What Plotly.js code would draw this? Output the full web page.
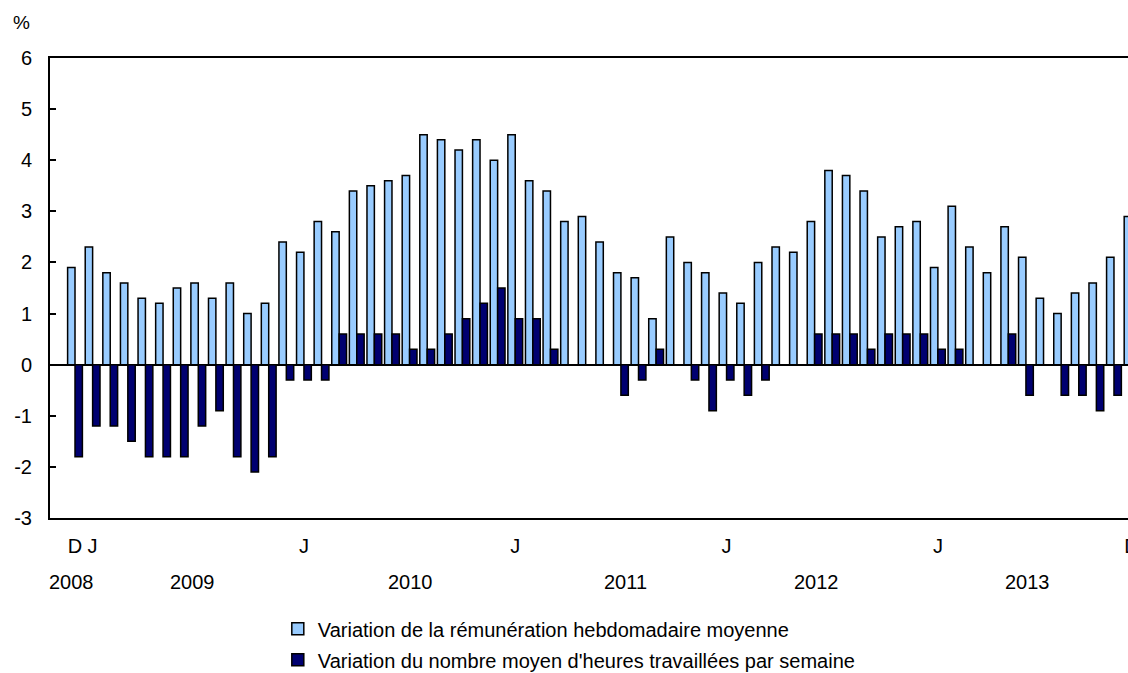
<!DOCTYPE html>
<html><head><meta charset="utf-8">
<script src="https://cdn.plot.ly/plotly-3.0.1.min.js"></script>
<style>html,body{margin:0;padding:0;overflow:hidden;background:#fff}#chart{width:1178px;height:673px}</style>
</head><body><div id="chart"></div>
<script>
const months = ["2008-12",
 "2009-01","2009-02","2009-03","2009-04","2009-05","2009-06","2009-07","2009-08","2009-09","2009-10","2009-11","2009-12",
 "2010-01","2010-02","2010-03","2010-04","2010-05","2010-06","2010-07","2010-08","2010-09","2010-10","2010-11","2010-12",
 "2011-01","2011-02","2011-03","2011-04","2011-05","2011-06","2011-07","2011-08","2011-09","2011-10","2011-11","2011-12",
 "2012-01","2012-02","2012-03","2012-04","2012-05","2012-06","2012-07","2012-08","2012-09","2012-10","2012-11","2012-12",
 "2013-01","2013-02","2013-03","2013-04","2013-05","2013-06","2013-07","2013-08","2013-09","2013-10","2013-11","2013-12"];
const wages = [1.9,
 2.3,1.8,1.6,1.3,1.2,1.5,1.6,1.3,1.6,1.0,1.2,2.4,
 2.2,2.8,2.6,3.4,3.5,3.6,3.7,4.5,4.4,4.2,4.4,4.0,
 4.5,3.6,3.4,2.8,2.9,2.4,1.8,1.7,0.9,2.5,2.0,1.8,
 1.4,1.2,2.0,2.3,2.2,2.8,3.8,3.7,3.4,2.5,2.7,2.8,
 1.9,3.1,2.3,1.8,2.7,2.1,1.3,1.0,1.4,1.6,2.1,2.9];
const hours = [-1.8,
 -1.2,-1.2,-1.5,-1.8,-1.8,-1.8,-1.2,-0.9,-1.8,-2.1,-1.8,-0.3,
 -0.3,-0.3,0.6,0.6,0.6,0.6,0.3,0.3,0.6,0.9,1.2,1.5,
 0.9,0.9,0.3,0,0,0,-0.6,-0.3,0.3,0,-0.3,-0.9,
 -0.3,-0.6,-0.3,0,0,0.6,0.6,0.6,0.3,0.6,0.6,0.6,
 0.3,0.3,0,0,0.6,-0.6,0,-0.6,-0.6,-0.9,-0.6,-0.3];
const seriesNames = ["Variation de la rémunération hebdomadaire moyenne",
                     "Variation du nombre moyen d'heures travaillées par semaine"];
const tickMonths = ["2008-12","2009-01","2010-01","2011-01","2012-01","2013-01","2013-12"];
const tickLabels = ["D","J","J","J","J","J","D"];
const yearLabels = ["2008","2009","2010","2011","2012","2013"];
const yTicks = [-3,-2,-1,0,1,2,3,4,5,6];
const yTickText = ["-3","-2","-1","0","1","2","3","4","5","6"];

const yearPos = [-0.2, 6.7, 19.05, 31.25, 42.1, 54.1];
const FONT = "Liberation Sans, Arial, sans-serif";

const traces = [
  {type:"bar", x:months, y:wages, name:seriesNames[0], legendgroup:"a",
   marker:{color:"#99ccff", line:{color:"#000", width:1.5}}},
  {type:"bar", x:months, y:hours, name:seriesNames[1], legendgroup:"b",
   marker:{color:"#000070", line:{color:"#000", width:1.5}}}
];

const annotations = yearLabels.map((t,i)=>({
  text:t, x:yearPos[i], xref:"x", y:-0.139, yref:"paper",
  showarrow:false, xanchor:"center", yanchor:"middle",
  font:{family:FONT, size:20, color:"#000"}
}));
annotations.push({
  text:"%", xref:"paper", yref:"paper", x:-0.026, y:1.078,
  xanchor:"center", yanchor:"middle", showarrow:false,
  font:{family:FONT, size:19, color:"#000"}
});

const layout = {
  width:1178, height:673,
  margin:{l:50, r:20, t:58, b:155, autoexpand:false},
  paper_bgcolor:"#fff", plot_bgcolor:"#fff",
  font:{family:FONT, size:20, color:"#000"},
  barmode:"group", bargap:0.16, bargroupgap:0,
  showlegend:true,
  legend:{x:0.2056, y:0.0946, xref:"paper", yref:"container", xanchor:"left", yanchor:"top",
          orientation:"v", font:{family:FONT, size:20, color:"#000"},
          traceorder:"grouped", tracegroupgap:2, bgcolor:"rgba(0,0,0,0)"},
  xaxis:{type:"category", categoryorder:"array", categoryarray:months, automargin:false,
         range:[-1.42, 61.5], showgrid:false, zeroline:false,
         showline:true, linecolor:"#000", linewidth:2, mirror:true,
         ticks:"", tickmode:"array", tickvals:tickMonths, ticktext:tickLabels,
         ticklabelstandoff:9, tickfont:{family:FONT, size:20, color:"#000"}},
  yaxis:{range:[-3,6], showgrid:false, zeroline:true, zerolinecolor:"#000", zerolinewidth:2,
         showline:true, linecolor:"#000", linewidth:2, mirror:true, automargin:false,
         ticks:"inside", ticklen:6, tickwidth:2, tickcolor:"#000",
         tickmode:"array", tickvals:yTicks, ticktext:yTickText, ticklabelstandoff:12,
         tickfont:{family:FONT, size:20, color:"#000"}},
  annotations:annotations
};

Plotly.newPlot("chart", traces, layout, {staticPlot:true, displayModeBar:false});
</script>
</body></html>
